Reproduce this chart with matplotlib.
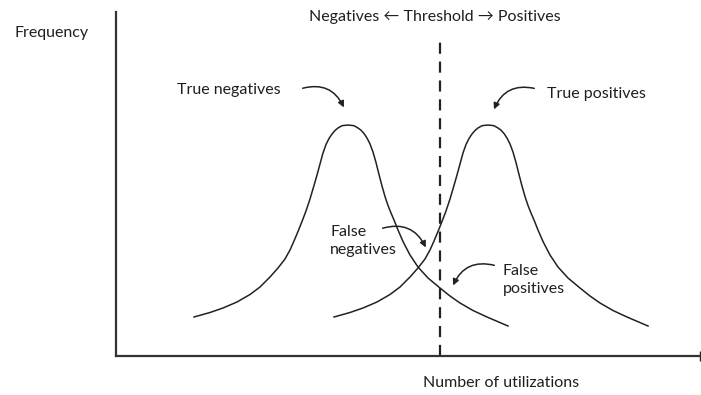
"""
Schematic: two overlapping frequency curves split by a decision threshold
"""

import matplotlib
matplotlib.use("Agg")
import matplotlib.pyplot as plt

plt.rcParams["font.family"] = ["Lato", "DejaVu Sans"]

# Curve outlines (x = utilizations, y = frequency, arbitrary units)
neg_x = [78, 94, 107, 121, 134, 144, 154, 162, 169, 174,
         178, 182, 186, 190, 194, 198, 201, 204, 207, 210,
         213, 216, 219, 222, 226, 232, 238, 242, 245, 248,
         251, 254, 257, 260, 263, 266, 269, 272, 275, 278,
         282, 287, 294, 302, 312, 324, 334, 344, 357, 371,
         392]
neg_y = [39, 43.5, 48, 54, 61.5, 69, 79, 88, 97, 106,
         115, 124.5, 134.5, 145, 157, 170.5, 181, 192, 203, 211.5,
         217.5, 222, 225.5, 228, 230.3, 231, 230.3, 228, 225.8, 222.5,
         218, 212, 204, 193.5, 181.5, 170, 159.5, 150.5, 143, 136,
         126, 114.5, 101, 89, 78, 68, 60, 53, 45.5, 39,
         30]
pos_x = [218, 234, 247, 261, 274, 284, 294, 302, 309, 314,
         318, 322, 326, 330, 334, 338, 341, 344, 347, 350,
         353, 356, 359, 362, 366, 372, 378, 382, 385, 388,
         391, 394, 397, 400, 403, 406, 409, 412, 415, 418,
         422, 427, 434, 442, 452, 464, 474, 484, 497, 511,
         532]
pos_y = [39, 43.5, 48, 54, 61.5, 69, 79, 88, 97, 106,
         115, 124.5, 134.5, 145, 157, 170.5, 181, 192, 203, 211.5,
         217.5, 222, 225.5, 228, 230.3, 231, 230.3, 228, 225.8, 222.5,
         218, 212, 204, 193.5, 181.5, 170, 159.5, 150.5, 143, 136,
         126, 114.5, 101, 89, 78, 68, 60, 53, 45.5, 39,
         30]

threshold_x = 324
threshold_top = 319

# label text, text position, arrow start, arrow end, curvature
labels = [
    ("True negatives", (61, 266), (184, 267), (229, 246), -0.45),
    ("True positives", (431, 262), (421, 267), (377, 244), 0.45),
    ("False\nnegatives", (214, 115), (264, 127), (311, 106), -0.45),
    ("False\npositives", (387, 76), (381, 90), (336, 68), 0.45),
]

fig = plt.figure(figsize=(7.01, 3.95), dpi=100)
ax = fig.add_axes([116 / 701, 39 / 395, 584 / 701, 344 / 395])
ax.set_xlim(0, 584)
ax.set_ylim(0, 344)

ax.plot(neg_x, neg_y, color="#222222", linewidth=1.1, solid_joinstyle="round")
ax.plot(pos_x, pos_y, color="#222222", linewidth=1.1, solid_joinstyle="round")
ax.plot([threshold_x, threshold_x], [0, threshold_top], color="#222222",
        linewidth=1.6, linestyle=(0, (5, 3.5)))

for text, tpos, start, end, rad in labels:
    ax.text(tpos[0], tpos[1], text, fontsize=11.5, color="#1f1f1f",
            ha="left", va="center", linespacing=1.35)
    ax.annotate("", xy=end, xytext=start,
                arrowprops=dict(arrowstyle="-|>", color="#222222", lw=1.1,
                                mutation_scale=9,
                                connectionstyle=f"arc3,rad={rad}"))

ax.text(-64, 323, "Frequency", fontsize=11.5, color="#1f1f1f",
        ha="center", va="center")
ax.text(319, 339, "Negatives \u2190 Threshold \u2192 Positives", fontsize=11.5,
        color="#1f1f1f", ha="center", va="center")
ax.text(385, -27, "Number of utilizations", fontsize=11.5, color="#1f1f1f",
        ha="center", va="center")

# tiny arrow stub at the end of the x axis
ax.plot([584], [0], marker="|", markersize=7, color="#222222", clip_on=False)

for side in ["top", "right"]:
    ax.spines[side].set_visible(False)
for side in ["left", "bottom"]:
    ax.spines[side].set_linewidth(1.6)
    ax.spines[side].set_color("#333333")
ax.set_xticks([])
ax.set_yticks([])

plt.savefig("out.png", dpi=100)
plt.close()
